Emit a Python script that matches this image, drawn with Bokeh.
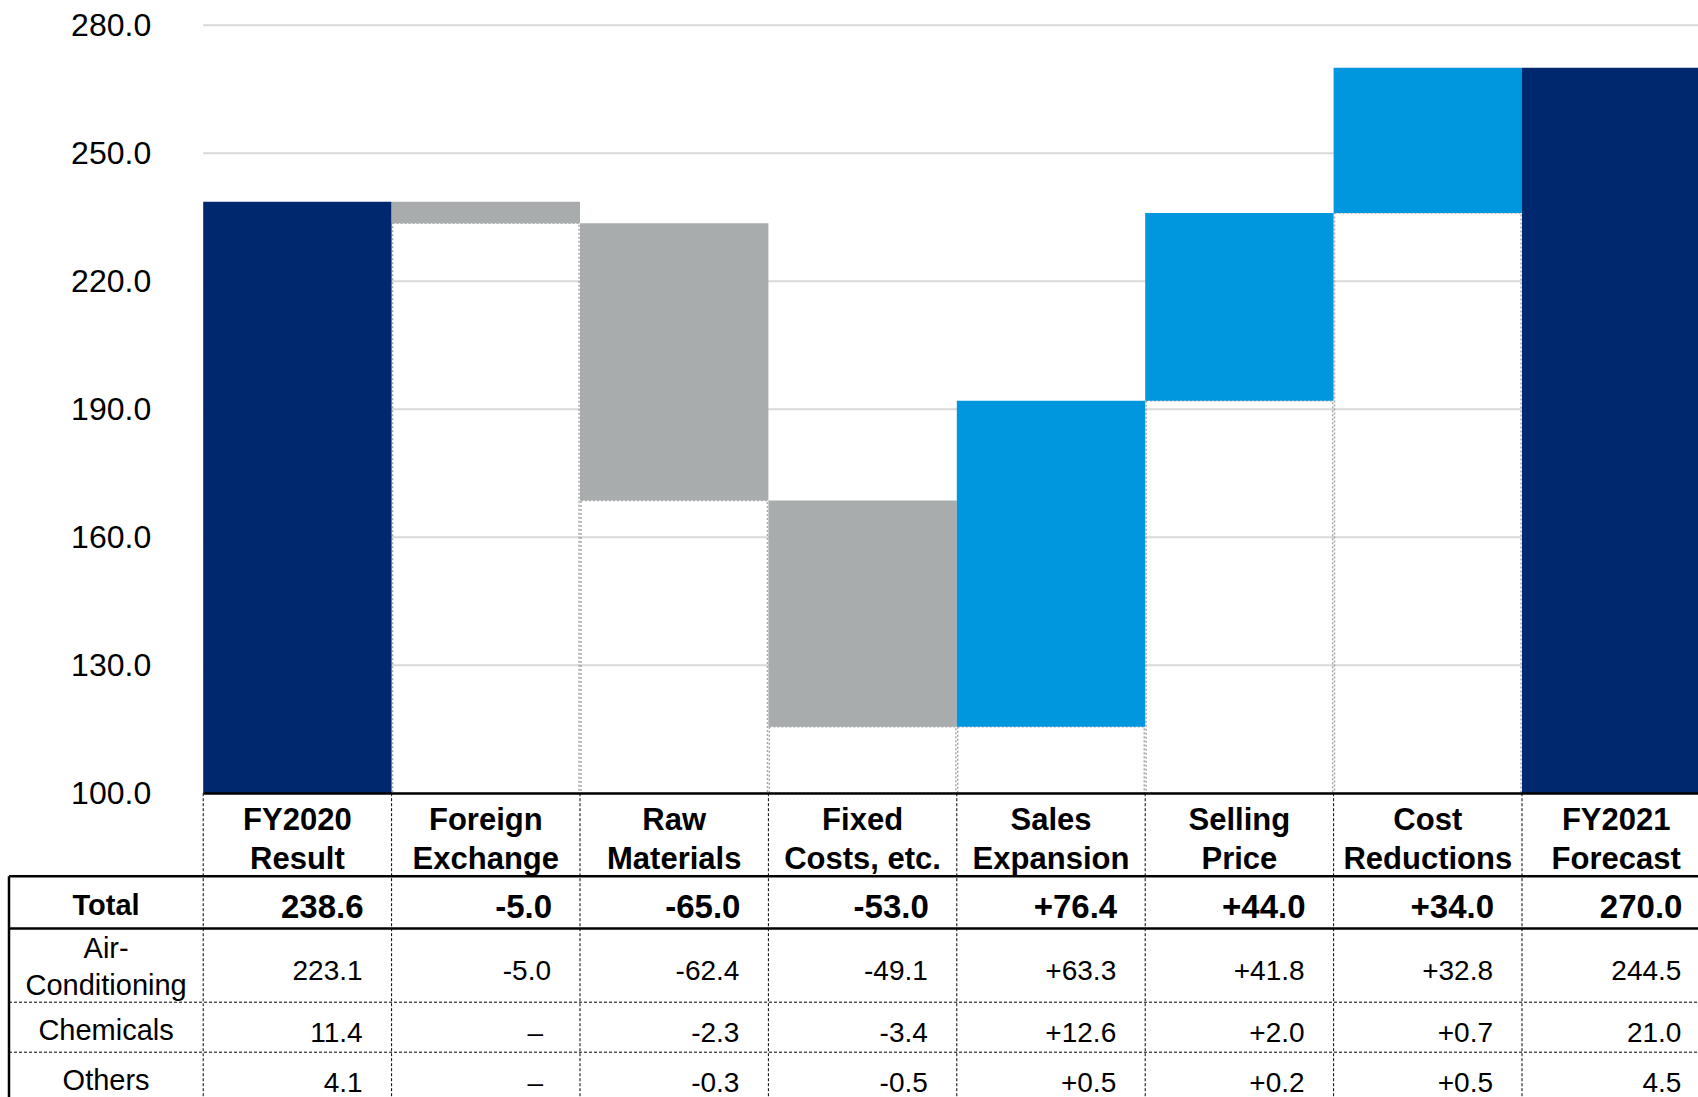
import numpy as np
from bokeh.plotting import figure
from bokeh.models import Range1d, FixedTicker, NumeralTickFormatter, ColumnDataSource
from bokeh.core.properties import value
from bokeh.embed import file_html
from bokeh.resources import INLINE

# ---------------- data ----------------
categories = ["FY2020\nResult", "Foreign\nExchange", "Raw\nMaterials", "Fixed\nCosts, etc.",
              "Sales\nExpansion", "Selling\nPrice", "Cost\nReductions", "FY2021\nForecast"]
totals = [238.6, -5.0, -65.0, -53.0, 76.4, 44.0, 34.0, 270.0]
air_conditioning = [223.1, -5.0, -62.4, -49.1, 63.3, 41.8, 32.8, 244.5]
chemicals = [11.4, None, -2.3, -3.4, 12.6, 2.0, 0.7, 21.0]
others = [4.1, None, -0.3, -0.5, 0.5, 0.2, 0.5, 4.5]
row_labels = ["Total", "Air-\nConditioning", "Chemicals", "Others"]
y_ticks = [100, 130, 160, 190, 220, 250, 280]
baseline = 100.0

# ---------------- style ----------------
NAVY = "#00286E"
GRAY = "#A9ACAD"
BLUE = "#0097DF"
GRID = "#D9D9D9"
DOT = "#A8A8A8"
FONT = "Liberation Sans"

W, H = 1698, 1097
PX_X = 188.4          # pixels per category
COL0_LEFT = 202.7     # page x of left edge of first category
PX_Y = 4.2667         # pixels per unit
TOP_TICK_PAGE = 24.7  # page y of top tick (280)

x_start = -0.5 - COL0_LEFT / PX_X
x_end = x_start + W / PX_X
y_end = y_ticks[-1] + TOP_TICK_PAGE / PX_Y
y_start = y_end - H / PX_Y


def ry(page_y):
    """page pixel row -> data y (for table layout)"""
    return y_end - page_y / PX_Y


def rx(page_x):
    return x_start + page_x / PX_X


# ---------------- waterfall geometry ----------------
n = len(totals)
xs = np.arange(n)
bottoms, tops, colors = [], [], []
level = totals[0]
for i, v in enumerate(totals):
    if i == 0 or i == n - 1:
        bottoms.append(baseline)
        tops.append(v)
        colors.append(NAVY)
    else:
        new = level + v
        bottoms.append(min(level, new))
        tops.append(max(level, new))
        colors.append(GRAY if v < 0 else BLUE)
        level = new

bars = ColumnDataSource(dict(left=xs - 0.5, right=xs + 0.5, bottom=bottoms, top=tops, color=colors))
mid = xs[1:-1]
ghost = ColumnDataSource(dict(left=mid - 0.5 + 0.005, right=mid + 0.5 - 0.005,
                              bottom=[baseline] * len(mid), top=[bottoms[i] for i in mid]))

p = figure(width=W, height=H, x_range=Range1d(x_start, x_end), y_range=Range1d(y_start, y_end),
           output_backend="svg", toolbar_location=None, min_border=0,
           x_axis_location="below", y_axis_location="left")
p.outline_line_color = None
p.xgrid.visible = False
p.ygrid.visible = False
p.background_fill_color = "white"
p.border_fill_color = "white"

# gridlines (only in chart area)
p.segment(x0=-0.5, x1=x_end, y0=y_ticks[1:], y1=y_ticks[1:], line_color=GRID, line_width=2)

# invisible base bars (dotted outlines)
p.quad(left="left", right="right", bottom="bottom", top="top", source=ghost,
       fill_color=None, line_color=DOT, line_width=1.5, line_dash="2 2")

# visible bars
p.quad(left="left", right="right", bottom="bottom", top="top", source=bars,
       fill_color="color", line_color=None)

# ---------------- table ----------------
rows_page = [875.8, 928.0, 1001.7, 1051.7]
row_y = [ry(v) for v in rows_page]
table_left = rx(8.5)

# vertical dashed dividers
p.segment(x0=xs - 0.5, x1=xs - 0.5, y0=[baseline] * n, y1=[y_start] * n,
          line_color="black", line_width=1, line_dash="3 2")
# horizontal lines
p.segment(x0=[table_left] * 2, x1=[x_end] * 2, y0=row_y[:2], y1=row_y[:2], line_color="black", line_width=2.5)
p.segment(x0=[table_left] * 2, x1=[x_end] * 2, y0=row_y[2:], y1=row_y[2:], line_color="black",
          line_width=1, line_dash="3 2")
# left border
p.segment(x0=[table_left], x1=[table_left], y0=[row_y[0]], y1=[y_start],
          line_color="black", line_width=2.5)

# row labels
label_x = (table_left - 0.5) / 2
label_y = [ry(904), ry(966), ry(1029), ry(1079)]
p.text(x=[label_x], y=[label_y[0]], text=[row_labels[0]], text_font=value(FONT), text_font_style="bold",
       text_font_size="29px", text_align="center", text_baseline="middle", text_color="black")
p.text(x=[label_x] * 3, y=label_y[1:], text=row_labels[1:], text_font=value(FONT),
       text_font_size="29px", text_align="center", text_baseline="middle", text_color="black",
       text_line_height=1.15)


def fmt(vals):
    out = []
    for i, v in enumerate(vals):
        if v is None:
            out.append("\u2013")
        elif i == 0 or i == len(vals) - 1:
            out.append(f"{v:.1f}")
        else:
            out.append(f"{v:+.1f}")
    return out


num_x = xs + 0.5
p.text(x=num_x, y=[ry(906)] * n, text=fmt(totals), x_offset=-28, text_font=value(FONT),
       text_font_style="bold", text_font_size="33px", text_align="right", text_baseline="middle",
       text_color="black")
for vals, py in [(air_conditioning, 970), (chemicals, 1032), (others, 1082)]:
    src = ColumnDataSource(dict(x=num_x, y=[ry(py)] * n, text=fmt(vals),
                                xo=[-37 if v is None else -29 for v in vals]))
    p.text(x="x", y="y", text="text", x_offset="xo", source=src, text_font=value(FONT),
           text_font_size="28px", text_align="right", text_baseline="middle", text_color="black")

# ---------------- axes ----------------
xa = p.xaxis[0]
xa.fixed_location = baseline
xa.bounds = (-0.5, x_end)
xa.ticker = FixedTicker(ticks=list(xs))
xa.major_label_overrides = {int(i): c for i, c in zip(xs, categories)}
xa.major_tick_line_color = None
xa.minor_tick_line_color = None
xa.axis_line_color = "black"
xa.axis_line_width = 2.5
xa.major_label_text_font = FONT
xa.major_label_text_font_style = "bold"
xa.major_label_text_font_size = "31px"
xa.major_label_text_color = "black"
xa.major_label_text_line_height = 1.1
xa.major_label_standoff = 3

ya = p.yaxis[0]
ya.fixed_location = -0.5
ya.ticker = FixedTicker(ticks=y_ticks)
ya.formatter = NumeralTickFormatter(format="0.0")
ya.axis_line_color = None
ya.major_tick_line_color = None
ya.minor_tick_line_color = None
ya.major_tick_out = 0
ya.major_tick_in = 0
ya.major_label_standoff = 52
ya.major_label_text_font = FONT
ya.major_label_text_font_size = "32px"
ya.major_label_text_color = "black"

open("out.html", "w").write(file_html(p, INLINE))
